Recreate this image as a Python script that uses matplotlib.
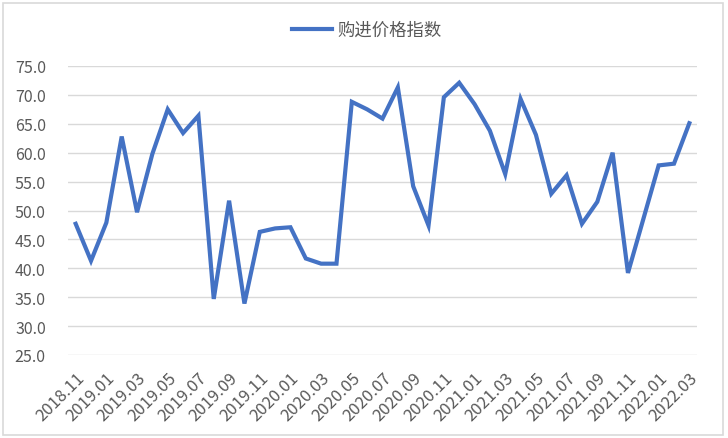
import numpy as np
import matplotlib
matplotlib.use('Agg')
import matplotlib.pyplot as plt
from matplotlib.patches import Rectangle

plt.rcParams['font.family'] = ['Noto Sans CJK SC', 'DejaVu Sans']

# monthly purchase price index, 2018.11 - 2022.03
months = []
for y in range(2018, 2023):
    for m in range(1, 13):
        if (y, m) >= (2018, 11) and (y, m) <= (2022, 3):
            months.append('%d.%02d' % (y, m))

values = [47.7, 41.3, 47.9, 62.8, 49.7, 59.8, 67.5, 63.4, 66.4, 34.7,
          51.7, 33.9, 46.3, 46.9, 47.1, 41.7, 40.8, 40.8, 68.8, 67.5,
          65.9, 71.3, 54.2, 47.4, 69.6, 72.1, 68.4, 63.8, 56.3, 69.3,
          63.1, 52.9, 56.1, 47.7, 51.5, 60.0, 39.2, 48.5, 57.8, 58.1,
          65.1]

series_name = '购进价格指数'
yticks = np.arange(25, 76, 5)

blue = '#4472C4'
grey_txt = '#595959'
grid_c = '#D9D9D9'

fig = plt.figure(figsize=(7.28, 4.39), dpi=100)
ax = fig.add_axes([68/728, 1-356/439, (697-68)/728, (356-67)/439])

x = np.arange(len(values))
ax.plot(x, values, color=blue, lw=3.0, solid_joinstyle='miter', label=series_name)

ax.set_xlim(-0.5, len(values) - 0.5)
ax.set_ylim(25, 75)
ax.set_yticks(yticks)
ax.set_yticklabels(['%.1f' % v for v in yticks], fontsize=11.5, color=grey_txt)
ax.yaxis.grid(True, color=grid_c, lw=1.0)
ax.set_axisbelow(True)

ax.set_xticks(x[::2])
ax.set_xticklabels(months[::2], rotation=45, ha='right', rotation_mode='anchor',
                   fontsize=12, color=grey_txt)
ax.tick_params(axis='x', length=0, pad=10)
ax.tick_params(axis='y', length=0, pad=16)
for s in ax.spines.values():
    s.set_visible(False)

leg = fig.legend(loc='center', bbox_to_anchor=(367/728, 1-31/439), frameon=False,
                 fontsize=12.5, handlelength=2.3, handletextpad=0.3)
for t in leg.get_texts():
    t.set_color(grey_txt)

fig.patches.append(Rectangle((3/728, 3/439), 720/728, 432/439, transform=fig.transFigure,
                             fill=False, edgecolor=grid_c, lw=1.2))

plt.savefig('out.png', dpi=100)
